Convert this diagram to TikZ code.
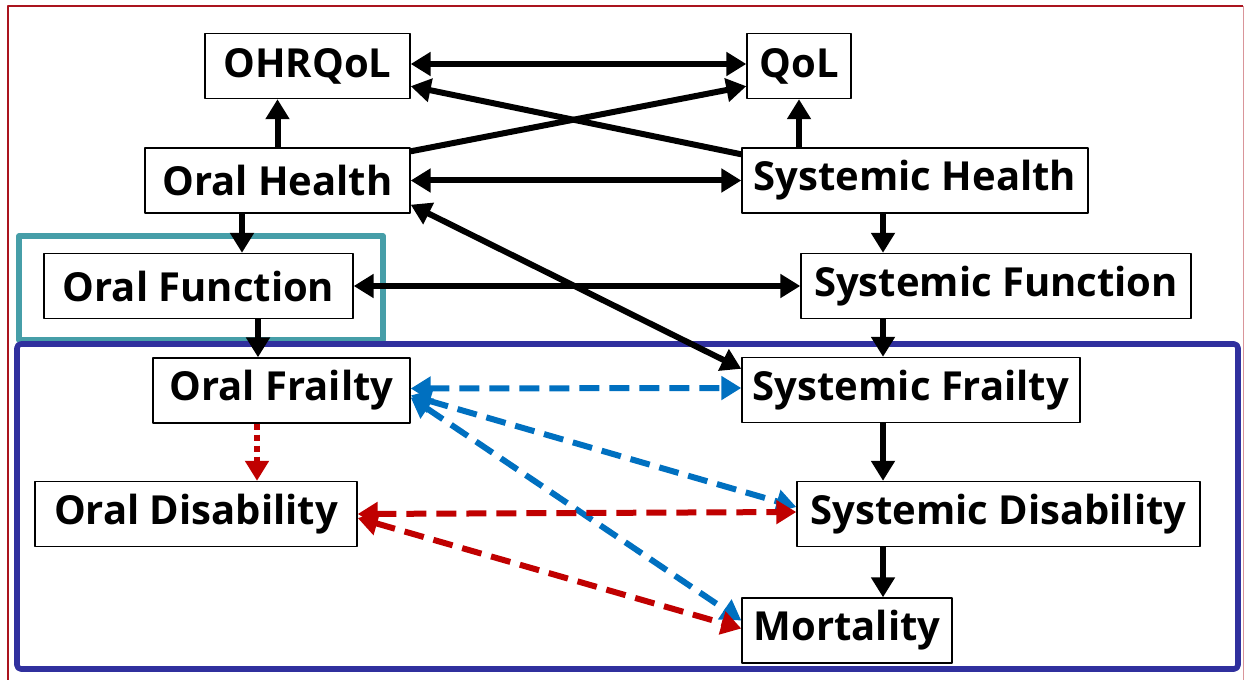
\documentclass[tikz,border=0pt]{standalone}
\usepackage{fontspec}
\setmainfont{Open Sans}
\usetikzlibrary{arrows.meta}
\definecolor{frailblue}{RGB}{0,112,192}
\definecolor{disred}{RGB}{192,0,0}
\definecolor{frameteal}{RGB}{70,158,168}
\definecolor{frameblue}{RGB}{48,48,158}
\definecolor{framered}{RGB}{170,20,30}
\begin{document}
\begin{tikzpicture}[x=.5pt,y=-.5pt,line join=round,>={Triangle[length=10pt,width=11.5pt]}]
    \tikzset{box/.style={draw,line width=.7pt,fill=white,minimum height=32.5pt,inner xsep=2pt,font=\bfseries\fontsize{20}{25}\selectfont}}
    \tikzset{link/.style={line width=3pt}}
    \tikzset{bluelink/.style={line width=3pt,frailblue,dash pattern=on 10pt off 5pt}}
    \tikzset{redlink/.style={line width=3pt,disred,dash pattern=on 10pt off 5pt}}
    \useasboundingbox (0,0) rectangle (1245,679);
    %% frames
    \draw[framered,line width=1.4pt] (8,700) -- (8,6) -- (1243,6);
    \draw[framered!45,line width=.5pt] (1243,6) -- (1243,700);
    \draw[frameteal,line width=2.8pt] (19,236) rectangle (383,340);
    \draw[frameblue,line width=2.8pt,rounded corners=2pt] (17,344) rectangle (1238,669);
    %% nodes
    \node[box,minimum width=102.5pt] (ohrqol) at (307.5,66) {OHRQoL};
    \node[box,minimum width=52pt] (qol) at (799,66) {QoL};
    \node[box,minimum width=132.5pt] (oralh) at (277.5,180.5) {Oral Health};
    \node[box,minimum width=173pt] (sysh) at (915,180.5) {Systemic Health};
    \node[box,minimum width=154.5pt] (oralfn) at (198.5,286) {Oral Function};
    \node[box,minimum width=195pt] (sysfn) at (996,286) {Systemic Function};
    \node[box,minimum width=128.5pt] (oralfr) at (281.5,390.5) {Oral Frailty};
    \node[box,minimum width=169pt] (sysfr) at (911,390) {Systemic Frailty};
    \node[box,minimum width=161pt] (oraldis) at (196,514) {Oral Disability};
    \node[box,minimum width=201.5pt] (sysdis) at (998.5,514) {Systemic Disability};
    \node[box,minimum width=105pt] (mort) at (847,630.5) {Mortality};
    %% black links
    \draw[link,<->] ([yshift=1pt]ohrqol.east) -- ([yshift=1pt]qol.west);
    \draw[link,->] ([yshift=-2pt]oralh.north east) -- ([yshift=6.5pt]qol.south west);
    \draw[link,->] ([yshift=-3.5pt]sysh.north west) -- ([yshift=6.5pt]ohrqol.south east);
    \draw[link,<->] (oralh.east) -- (sysh.west);
    \draw[link,->] (oralh.north) -- (oralh.north |- ohrqol.south);
    \draw[link,->] (qol.south |- sysh.north) -- (qol.south);
    \draw[link,->] ([xshift=-17.75pt]oralh.south) -- ([xshift=-17.75pt]oralh.south |- oralfn.north);
    \draw[link,->] ([xshift=-16pt]sysh.south) -- ([xshift=-16pt]sysh.south |- sysfn.north);
    \draw[link,<->] (oralfn.east) -- (sysfn.west);
    \draw[link,->] ([xshift=-11.75pt]oralfr.north |- oralfn.south) -- ([xshift=-11.75pt]oralfr.north);
    \draw[link,->] ([xshift=-14pt]sysfr.north |- sysfn.south) -- ([xshift=-14pt]sysfr.north);
    \draw[link,<->] ([yshift=4.5pt]oralh.south east) -- ([yshift=-6pt]sysfr.north west);
    \draw[link,->] ([xshift=-14pt]sysfr.south) -- ([xshift=-14pt]sysfr.south |- sysdis.north);
    \draw[link,->] ([xshift=18pt]mort.north |- sysdis.south) -- ([xshift=18pt]mort.north);
    %% frailty links
    \draw[bluelink,<->] ([yshift=1pt]oralfr.east) -- ([yshift=1pt]sysfr.west);
    \draw[bluelink,<->] ([yshift=-2.5pt]oralfr.east) -- ([yshift=3.5pt]sysdis.west);
    \draw[bluelink,<->] ([yshift=-3.5pt]oralfr.east) -- ([yshift=5pt]mort.west);
    %% disability links
    \draw[disred,line width=2.6pt,dash pattern=on 3pt off 2.5pt,->] ([xshift=-12.25pt]oralfr.south) -- ([xshift=-12.25pt]oralfr.south |- oraldis.north);
    \draw[redlink,<->] (oraldis.east) -- ([yshift=1pt]sysdis.west);
    \draw[redlink,<->] ([yshift=-2pt]oraldis.east) -- ([yshift=1pt]mort.west);
\end{tikzpicture}
\end{document}
